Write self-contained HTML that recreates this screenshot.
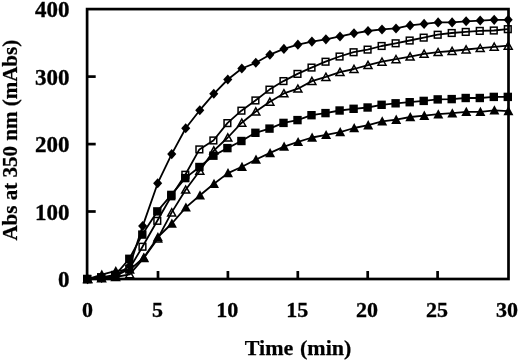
<!DOCTYPE html>
<html><head><meta charset="utf-8"><style>
html,body{margin:0;padding:0;background:#fff;}
body{width:520px;height:361px;overflow:hidden;}
svg{display:block;will-change:transform;filter:blur(0.3px);}
.tk{font-size:23px;stroke:#000;stroke-width:0.35px;}
.tx{font-size:22px;}
text{stroke:#000;stroke-width:0.25px;font-family:"Liberation Serif",serif;font-weight:bold;font-size:22px;fill:#000;}
</style></head><body>
<svg width="520" height="361" viewBox="0 0 520 361">
<polyline points="87.6,279.2 101.6,277.9 115.6,275.8 129.7,265.8 142.7,226.1 157.7,183.2 171.7,154.1 185.7,128.2 199.8,110.2 213.8,93.8 227.8,79.5 241.8,68.5 255.8,62.8 269.9,54.7 283.9,48.9 297.9,44.7 311.9,41.6 325.9,39.3 340.0,36.4 354.0,33.3 368.0,31.0 382.0,29.4 396.0,28.4 410.1,25.4 424.1,23.9 438.1,22.4 452.1,22.4 466.1,21.3 480.2,20.6 494.2,19.8 508.2,19.8" fill="none" stroke="#000" stroke-width="1.8" stroke-linejoin="round"/>
<path d="M87.6 274.1L92.1 279.2L87.6 284.2L83.0 279.2Z" fill="#000"/>
<path d="M101.6 272.8L106.2 277.9L101.6 282.9L97.1 277.9Z" fill="#000"/>
<path d="M115.6 270.8L120.2 275.8L115.6 280.9L111.1 275.8Z" fill="#000"/>
<path d="M129.7 260.7L134.2 265.8L129.7 270.8L125.1 265.8Z" fill="#000"/>
<path d="M142.7 221.0L147.2 226.1L142.7 231.1L138.1 226.1Z" fill="#000"/>
<path d="M157.7 178.2L162.2 183.2L157.7 188.3L153.1 183.2Z" fill="#000"/>
<path d="M171.7 149.1L176.3 154.1L171.7 159.2L167.2 154.1Z" fill="#000"/>
<path d="M185.7 123.2L190.3 128.2L185.7 133.3L181.2 128.2Z" fill="#000"/>
<path d="M199.8 105.2L204.3 110.2L199.8 115.3L195.2 110.2Z" fill="#000"/>
<path d="M213.8 88.7L218.3 93.8L213.8 98.8L209.2 93.8Z" fill="#000"/>
<path d="M227.8 74.4L232.3 79.5L227.8 84.5L223.2 79.5Z" fill="#000"/>
<path d="M241.8 63.5L246.4 68.5L241.8 73.6L237.3 68.5Z" fill="#000"/>
<path d="M255.8 57.7L260.4 62.8L255.8 67.8L251.3 62.8Z" fill="#000"/>
<path d="M269.9 49.7L274.4 54.7L269.9 59.8L265.3 54.7Z" fill="#000"/>
<path d="M283.9 43.8L288.4 48.9L283.9 53.9L279.3 48.9Z" fill="#000"/>
<path d="M297.9 39.6L302.4 44.7L297.9 49.7L293.3 44.7Z" fill="#000"/>
<path d="M311.9 36.6L316.5 41.6L311.9 46.7L307.4 41.6Z" fill="#000"/>
<path d="M325.9 34.3L330.5 39.3L325.9 44.4L321.4 39.3Z" fill="#000"/>
<path d="M340.0 31.4L344.5 36.4L340.0 41.5L335.4 36.4Z" fill="#000"/>
<path d="M354.0 28.2L358.5 33.3L354.0 38.3L349.4 33.3Z" fill="#000"/>
<path d="M368.0 25.9L372.6 31.0L368.0 36.0L363.4 31.0Z" fill="#000"/>
<path d="M382.0 24.4L386.6 29.4L382.0 34.5L377.5 29.4Z" fill="#000"/>
<path d="M396.0 23.4L400.6 28.4L396.0 33.5L391.5 28.4Z" fill="#000"/>
<path d="M410.1 20.3L414.6 25.4L410.1 30.4L405.5 25.4Z" fill="#000"/>
<path d="M424.1 18.8L428.6 23.9L424.1 28.9L419.5 23.9Z" fill="#000"/>
<path d="M438.1 17.3L442.7 22.4L438.1 27.4L433.6 22.4Z" fill="#000"/>
<path d="M452.1 17.3L456.7 22.4L452.1 27.4L447.6 22.4Z" fill="#000"/>
<path d="M466.1 16.2L470.7 21.3L466.1 26.3L461.6 21.3Z" fill="#000"/>
<path d="M480.2 15.5L484.7 20.6L480.2 25.6L475.6 20.6Z" fill="#000"/>
<path d="M494.2 14.8L498.7 19.8L494.2 24.9L489.6 19.8Z" fill="#000"/>
<path d="M508.2 14.8L512.7 19.8L508.2 24.9L503.6 19.8Z" fill="#000"/>
<polyline points="87.2,279.0 101.2,277.7 115.2,276.3 129.3,268.9 142.5,246.7 157.3,220.8 171.3,196.3 185.3,174.8 199.4,149.4 213.4,140.5 227.4,123.1 241.4,110.7 255.4,100.5 269.5,89.6 283.5,81.1 297.5,73.9 311.5,67.6 325.5,61.7 339.6,56.5 353.6,52.2 367.6,49.6 381.6,46.0 395.6,43.3 409.7,40.5 423.7,37.6 437.7,34.7 451.7,33.0 465.7,31.9 479.8,30.9 493.8,30.5 507.8,29.2" fill="none" stroke="#000" stroke-width="1.8" stroke-linejoin="round"/>
<rect x="83.85" y="275.65" width="6.70" height="6.70" fill="none" stroke="#000" stroke-width="1.5"/>
<rect x="97.87" y="274.30" width="6.70" height="6.70" fill="none" stroke="#000" stroke-width="1.5"/>
<rect x="111.89" y="272.96" width="6.70" height="6.70" fill="none" stroke="#000" stroke-width="1.5"/>
<rect x="125.91" y="265.56" width="6.70" height="6.70" fill="none" stroke="#000" stroke-width="1.5"/>
<rect x="139.13" y="243.37" width="6.70" height="6.70" fill="none" stroke="#000" stroke-width="1.5"/>
<rect x="153.95" y="217.48" width="6.70" height="6.70" fill="none" stroke="#000" stroke-width="1.5"/>
<rect x="167.97" y="192.93" width="6.70" height="6.70" fill="none" stroke="#000" stroke-width="1.5"/>
<rect x="181.99" y="171.41" width="6.70" height="6.70" fill="none" stroke="#000" stroke-width="1.5"/>
<rect x="196.01" y="146.06" width="6.70" height="6.70" fill="none" stroke="#000" stroke-width="1.5"/>
<rect x="210.03" y="137.12" width="6.70" height="6.70" fill="none" stroke="#000" stroke-width="1.5"/>
<rect x="224.05" y="119.76" width="6.70" height="6.70" fill="none" stroke="#000" stroke-width="1.5"/>
<rect x="238.07" y="107.32" width="6.70" height="6.70" fill="none" stroke="#000" stroke-width="1.5"/>
<rect x="252.09" y="97.10" width="6.70" height="6.70" fill="none" stroke="#000" stroke-width="1.5"/>
<rect x="266.11" y="86.27" width="6.70" height="6.70" fill="none" stroke="#000" stroke-width="1.5"/>
<rect x="280.13" y="77.73" width="6.70" height="6.70" fill="none" stroke="#000" stroke-width="1.5"/>
<rect x="294.15" y="70.54" width="6.70" height="6.70" fill="none" stroke="#000" stroke-width="1.5"/>
<rect x="308.17" y="64.22" width="6.70" height="6.70" fill="none" stroke="#000" stroke-width="1.5"/>
<rect x="322.19" y="58.37" width="6.70" height="6.70" fill="none" stroke="#000" stroke-width="1.5"/>
<rect x="336.21" y="53.19" width="6.70" height="6.70" fill="none" stroke="#000" stroke-width="1.5"/>
<rect x="350.23" y="48.88" width="6.70" height="6.70" fill="none" stroke="#000" stroke-width="1.5"/>
<rect x="364.25" y="46.26" width="6.70" height="6.70" fill="none" stroke="#000" stroke-width="1.5"/>
<rect x="378.27" y="42.63" width="6.70" height="6.70" fill="none" stroke="#000" stroke-width="1.5"/>
<rect x="392.29" y="39.94" width="6.70" height="6.70" fill="none" stroke="#000" stroke-width="1.5"/>
<rect x="406.31" y="37.18" width="6.70" height="6.70" fill="none" stroke="#000" stroke-width="1.5"/>
<rect x="420.33" y="34.29" width="6.70" height="6.70" fill="none" stroke="#000" stroke-width="1.5"/>
<rect x="434.35" y="31.40" width="6.70" height="6.70" fill="none" stroke="#000" stroke-width="1.5"/>
<rect x="448.37" y="29.65" width="6.70" height="6.70" fill="none" stroke="#000" stroke-width="1.5"/>
<rect x="462.39" y="28.57" width="6.70" height="6.70" fill="none" stroke="#000" stroke-width="1.5"/>
<rect x="476.41" y="27.56" width="6.70" height="6.70" fill="none" stroke="#000" stroke-width="1.5"/>
<rect x="490.43" y="27.16" width="6.70" height="6.70" fill="none" stroke="#000" stroke-width="1.5"/>
<rect x="504.45" y="25.82" width="6.70" height="6.70" fill="none" stroke="#000" stroke-width="1.5"/>
<polyline points="87.6,279.0 101.6,278.3 115.6,277.0 129.7,274.3 143.7,258.2 157.7,238.7 171.7,212.4 185.7,189.7 199.8,170.7 213.8,150.6 227.8,137.5 241.8,122.7 255.8,111.5 269.9,101.8 283.9,93.4 297.9,88.7 311.9,81.1 325.9,76.9 340.0,72.1 354.0,69.0 368.0,65.1 382.0,61.7 396.0,59.2 410.1,56.6 424.1,53.8 438.1,52.2 452.1,51.0 466.1,49.5 480.2,48.2 494.2,46.8 508.2,45.7" fill="none" stroke="#000" stroke-width="1.8" stroke-linejoin="round"/>
<path d="M87.6 275.3L91.6 282.4L83.6 282.4Z" fill="none" stroke="#000" stroke-width="1.5" stroke-linejoin="miter"/>
<path d="M101.6 274.6L105.6 281.8L97.6 281.8Z" fill="none" stroke="#000" stroke-width="1.5" stroke-linejoin="miter"/>
<path d="M115.6 273.3L119.6 280.4L111.6 280.4Z" fill="none" stroke="#000" stroke-width="1.5" stroke-linejoin="miter"/>
<path d="M129.7 270.6L133.7 277.7L125.7 277.7Z" fill="none" stroke="#000" stroke-width="1.5" stroke-linejoin="miter"/>
<path d="M143.7 254.5L147.7 261.6L139.7 261.6Z" fill="none" stroke="#000" stroke-width="1.5" stroke-linejoin="miter"/>
<path d="M157.7 235.0L161.7 242.1L153.7 242.1Z" fill="none" stroke="#000" stroke-width="1.5" stroke-linejoin="miter"/>
<path d="M171.7 208.7L175.7 215.9L167.7 215.9Z" fill="none" stroke="#000" stroke-width="1.5" stroke-linejoin="miter"/>
<path d="M185.7 186.0L189.7 193.1L181.7 193.1Z" fill="none" stroke="#000" stroke-width="1.5" stroke-linejoin="miter"/>
<path d="M199.8 167.0L203.8 174.2L195.8 174.2Z" fill="none" stroke="#000" stroke-width="1.5" stroke-linejoin="miter"/>
<path d="M213.8 146.9L217.8 154.0L209.8 154.0Z" fill="none" stroke="#000" stroke-width="1.5" stroke-linejoin="miter"/>
<path d="M227.8 133.8L231.8 141.0L223.8 141.0Z" fill="none" stroke="#000" stroke-width="1.5" stroke-linejoin="miter"/>
<path d="M241.8 119.0L245.8 126.2L237.8 126.2Z" fill="none" stroke="#000" stroke-width="1.5" stroke-linejoin="miter"/>
<path d="M255.8 107.8L259.8 115.0L251.8 115.0Z" fill="none" stroke="#000" stroke-width="1.5" stroke-linejoin="miter"/>
<path d="M269.9 98.1L273.9 105.2L265.9 105.2Z" fill="none" stroke="#000" stroke-width="1.5" stroke-linejoin="miter"/>
<path d="M283.9 89.7L287.9 96.8L279.9 96.8Z" fill="none" stroke="#000" stroke-width="1.5" stroke-linejoin="miter"/>
<path d="M297.9 85.0L301.9 92.1L293.9 92.1Z" fill="none" stroke="#000" stroke-width="1.5" stroke-linejoin="miter"/>
<path d="M311.9 77.4L315.9 84.5L307.9 84.5Z" fill="none" stroke="#000" stroke-width="1.5" stroke-linejoin="miter"/>
<path d="M325.9 73.2L329.9 80.4L321.9 80.4Z" fill="none" stroke="#000" stroke-width="1.5" stroke-linejoin="miter"/>
<path d="M340.0 68.4L344.0 75.5L336.0 75.5Z" fill="none" stroke="#000" stroke-width="1.5" stroke-linejoin="miter"/>
<path d="M354.0 65.3L358.0 72.4L350.0 72.4Z" fill="none" stroke="#000" stroke-width="1.5" stroke-linejoin="miter"/>
<path d="M368.0 61.4L372.0 68.6L364.0 68.6Z" fill="none" stroke="#000" stroke-width="1.5" stroke-linejoin="miter"/>
<path d="M382.0 58.0L386.0 65.2L378.0 65.2Z" fill="none" stroke="#000" stroke-width="1.5" stroke-linejoin="miter"/>
<path d="M396.0 55.5L400.0 62.7L392.0 62.7Z" fill="none" stroke="#000" stroke-width="1.5" stroke-linejoin="miter"/>
<path d="M410.1 52.9L414.1 60.1L406.1 60.1Z" fill="none" stroke="#000" stroke-width="1.5" stroke-linejoin="miter"/>
<path d="M424.1 50.1L428.1 57.3L420.1 57.3Z" fill="none" stroke="#000" stroke-width="1.5" stroke-linejoin="miter"/>
<path d="M438.1 48.5L442.1 55.6L434.1 55.6Z" fill="none" stroke="#000" stroke-width="1.5" stroke-linejoin="miter"/>
<path d="M452.1 47.3L456.1 54.5L448.1 54.5Z" fill="none" stroke="#000" stroke-width="1.5" stroke-linejoin="miter"/>
<path d="M466.1 45.8L470.1 52.9L462.1 52.9Z" fill="none" stroke="#000" stroke-width="1.5" stroke-linejoin="miter"/>
<path d="M480.2 44.5L484.2 51.6L476.2 51.6Z" fill="none" stroke="#000" stroke-width="1.5" stroke-linejoin="miter"/>
<path d="M494.2 43.1L498.2 50.2L490.2 50.2Z" fill="none" stroke="#000" stroke-width="1.5" stroke-linejoin="miter"/>
<path d="M508.2 42.0L512.2 49.2L504.2 49.2Z" fill="none" stroke="#000" stroke-width="1.5" stroke-linejoin="miter"/>
<polyline points="87.2,279.0 101.2,277.3 115.2,275.0 129.3,258.8 142.3,234.6 157.3,211.4 171.3,194.9 185.3,178.1 199.4,167.0 213.4,155.7 227.4,148.1 241.4,141.0 255.4,132.8 269.5,128.6 283.5,122.9 297.5,120.1 311.5,115.2 325.5,113.1 339.6,110.5 353.6,108.8 367.6,107.5 381.6,104.8 395.6,103.3 409.7,102.2 423.7,100.9 437.7,99.4 451.7,99.1 465.7,98.0 479.8,98.0 493.8,96.9 507.8,96.9" fill="none" stroke="#000" stroke-width="1.8" stroke-linejoin="round"/>
<rect x="83.0" y="274.8" width="8.4" height="8.4" fill="#000"/>
<rect x="97.0" y="273.1" width="8.4" height="8.4" fill="#000"/>
<rect x="111.0" y="270.8" width="8.4" height="8.4" fill="#000"/>
<rect x="125.1" y="254.6" width="8.4" height="8.4" fill="#000"/>
<rect x="138.1" y="230.4" width="8.4" height="8.4" fill="#000"/>
<rect x="153.1" y="207.2" width="8.4" height="8.4" fill="#000"/>
<rect x="167.1" y="190.7" width="8.4" height="8.4" fill="#000"/>
<rect x="181.1" y="173.9" width="8.4" height="8.4" fill="#000"/>
<rect x="195.2" y="162.8" width="8.4" height="8.4" fill="#000"/>
<rect x="209.2" y="151.5" width="8.4" height="8.4" fill="#000"/>
<rect x="223.2" y="143.9" width="8.4" height="8.4" fill="#000"/>
<rect x="237.2" y="136.8" width="8.4" height="8.4" fill="#000"/>
<rect x="251.2" y="128.6" width="8.4" height="8.4" fill="#000"/>
<rect x="265.3" y="124.4" width="8.4" height="8.4" fill="#000"/>
<rect x="279.3" y="118.7" width="8.4" height="8.4" fill="#000"/>
<rect x="293.3" y="115.9" width="8.4" height="8.4" fill="#000"/>
<rect x="307.3" y="111.0" width="8.4" height="8.4" fill="#000"/>
<rect x="321.3" y="108.9" width="8.4" height="8.4" fill="#000"/>
<rect x="335.4" y="106.3" width="8.4" height="8.4" fill="#000"/>
<rect x="349.4" y="104.6" width="8.4" height="8.4" fill="#000"/>
<rect x="363.4" y="103.3" width="8.4" height="8.4" fill="#000"/>
<rect x="377.4" y="100.6" width="8.4" height="8.4" fill="#000"/>
<rect x="391.4" y="99.1" width="8.4" height="8.4" fill="#000"/>
<rect x="405.5" y="98.0" width="8.4" height="8.4" fill="#000"/>
<rect x="419.5" y="96.7" width="8.4" height="8.4" fill="#000"/>
<rect x="433.5" y="95.2" width="8.4" height="8.4" fill="#000"/>
<rect x="447.5" y="94.9" width="8.4" height="8.4" fill="#000"/>
<rect x="461.5" y="93.8" width="8.4" height="8.4" fill="#000"/>
<rect x="475.6" y="93.8" width="8.4" height="8.4" fill="#000"/>
<rect x="489.6" y="92.7" width="8.4" height="8.4" fill="#000"/>
<rect x="503.6" y="92.7" width="8.4" height="8.4" fill="#000"/>
<polyline points="87.8,279.0 101.8,274.6 115.8,270.9 129.9,269.6 143.9,257.5 157.9,237.0 171.9,223.5 185.9,207.4 200.0,195.3 214.0,183.7 228.0,173.1 242.0,166.7 256.0,159.5 270.1,152.9 284.1,146.6 298.1,141.9 312.1,137.5 326.1,134.9 340.2,132.1 354.2,128.0 368.2,125.1 382.2,121.3 396.2,119.6 410.3,117.0 424.3,115.6 438.3,114.2 452.3,113.2 466.3,111.8 480.4,111.8 494.4,110.3 508.4,111.1" fill="none" stroke="#000" stroke-width="1.8" stroke-linejoin="round"/>
<path d="M87.8 274.0L92.8 283.2L82.8 283.2Z" fill="#000"/>
<path d="M101.8 269.6L106.8 278.9L96.8 278.9Z" fill="#000"/>
<path d="M115.8 265.9L120.8 275.2L110.8 275.2Z" fill="#000"/>
<path d="M129.9 264.6L134.9 273.8L124.9 273.8Z" fill="#000"/>
<path d="M143.9 252.5L148.9 261.7L138.9 261.7Z" fill="#000"/>
<path d="M157.9 232.0L162.9 241.2L152.9 241.2Z" fill="#000"/>
<path d="M171.9 218.5L176.9 227.8L166.9 227.8Z" fill="#000"/>
<path d="M185.9 202.4L190.9 211.6L180.9 211.6Z" fill="#000"/>
<path d="M200.0 190.3L205.0 199.5L195.0 199.5Z" fill="#000"/>
<path d="M214.0 178.7L219.0 188.0L209.0 188.0Z" fill="#000"/>
<path d="M228.0 168.1L233.0 177.3L223.0 177.3Z" fill="#000"/>
<path d="M242.0 161.7L247.0 170.9L237.0 170.9Z" fill="#000"/>
<path d="M256.0 154.5L261.0 163.7L251.0 163.7Z" fill="#000"/>
<path d="M270.1 147.9L275.1 157.2L265.1 157.2Z" fill="#000"/>
<path d="M284.1 141.6L289.1 150.8L279.1 150.8Z" fill="#000"/>
<path d="M298.1 136.9L303.1 146.1L293.1 146.1Z" fill="#000"/>
<path d="M312.1 132.5L317.1 141.8L307.1 141.8Z" fill="#000"/>
<path d="M326.1 129.9L331.1 139.1L321.1 139.1Z" fill="#000"/>
<path d="M340.2 127.1L345.2 136.3L335.2 136.3Z" fill="#000"/>
<path d="M354.2 123.0L359.2 132.3L349.2 132.3Z" fill="#000"/>
<path d="M368.2 120.1L373.2 129.4L363.2 129.4Z" fill="#000"/>
<path d="M382.2 116.3L387.2 125.5L377.2 125.5Z" fill="#000"/>
<path d="M396.2 114.6L401.2 123.9L391.2 123.9Z" fill="#000"/>
<path d="M410.3 112.0L415.3 121.2L405.3 121.2Z" fill="#000"/>
<path d="M424.3 110.6L429.3 119.9L419.3 119.9Z" fill="#000"/>
<path d="M438.3 109.2L443.3 118.5L433.3 118.5Z" fill="#000"/>
<path d="M452.3 108.2L457.3 117.5L447.3 117.5Z" fill="#000"/>
<path d="M466.3 106.8L471.3 116.1L461.3 116.1Z" fill="#000"/>
<path d="M480.4 106.8L485.4 116.1L475.4 116.1Z" fill="#000"/>
<path d="M494.4 105.3L499.4 114.5L489.4 114.5Z" fill="#000"/>
<path d="M508.4 106.1L513.4 115.3L503.4 115.3Z" fill="#000"/>
<rect x="87.1" y="9.1" width="421.4" height="269.9" fill="none" stroke="#000" stroke-width="2.7"/>
<line x1="87.1" y1="211.5" x2="95.7" y2="211.5" stroke="#000" stroke-width="2.7"/>
<line x1="87.1" y1="144.1" x2="95.7" y2="144.1" stroke="#000" stroke-width="2.7"/>
<line x1="87.1" y1="76.6" x2="95.7" y2="76.6" stroke="#000" stroke-width="2.7"/>
<line x1="158.0" y1="279.0" x2="158.0" y2="271.0" stroke="#000" stroke-width="2.7"/>
<line x1="227.9" y1="279.0" x2="227.9" y2="271.0" stroke="#000" stroke-width="2.7"/>
<line x1="297.8" y1="279.0" x2="297.8" y2="271.0" stroke="#000" stroke-width="2.7"/>
<line x1="367.7" y1="279.0" x2="367.7" y2="271.0" stroke="#000" stroke-width="2.7"/>
<line x1="437.6" y1="279.0" x2="437.6" y2="271.0" stroke="#000" stroke-width="2.7"/>
<text class="tk" x="69.4" y="287.3" text-anchor="end">0</text>
<text class="tk" x="69.4" y="219.8" text-anchor="end">100</text>
<text class="tk" x="69.4" y="152.4" text-anchor="end">200</text>
<text class="tk" x="69.4" y="84.9" text-anchor="end">300</text>
<text class="tk" x="69.4" y="17.4" text-anchor="end">400</text>
<text class="tk tx" x="87.5" y="317.4" text-anchor="middle">0</text>
<text class="tk tx" x="157.4" y="317.4" text-anchor="middle">5</text>
<text class="tk tx" x="227.3" y="317.4" text-anchor="middle">10</text>
<text class="tk tx" x="297.2" y="317.4" text-anchor="middle">15</text>
<text class="tk tx" x="367.1" y="317.4" text-anchor="middle">20</text>
<text class="tk tx" x="437.0" y="317.4" text-anchor="middle">25</text>
<text class="tk tx" x="506.9" y="317.4" text-anchor="middle">30</text>
<text x="298.1" y="354.5" text-anchor="middle" style="word-spacing:1.2px">Time (min)</text>
<text transform="translate(16.5,140.2) rotate(-90)" text-anchor="middle" style="font-size:21px">Abs at 350 nm (mAbs)</text>
</svg>
</body></html>
